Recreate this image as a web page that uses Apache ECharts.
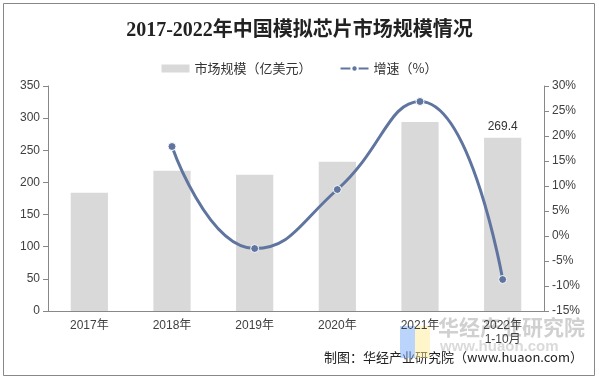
<!DOCTYPE html>
<html><head><meta charset="utf-8">
<script src="https://cdn.jsdelivr.net/npm/echarts@6/dist/echarts.min.js"></script>
<style>html,body{margin:0;padding:0;background:#fff}#c{width:599px;height:380px}</style>
</head><body><div id="c"></div>
<script>
const categories = ['2017年','2018年','2019年','2020年','2021年','2022年\n1-10月'];
const marketSize = [184, 218, 212, 232, 294, 269.4];
const growth = [null, 17.9, -2.5, 9.3, 26.9, -8.7];
const leftTicks = [0, 350, 50];
const rightTicks = [-15, 30, 5];

const chart = echarts.init(document.getElementById('c'), null, {renderer:'canvas'});
const axisTxt = {color:'#404040', fontSize:12, fontFamily:'Liberation Sans, Arial, Noto Sans CJK SC'};
chart.setOption({
  animation:false,
  backgroundColor:'#fff',
  title:{text:'2017-2022年中国模拟芯片市场规模情况', left:'center', top:16,
    textStyle:{fontSize:20, fontWeight:'bold', color:'#222', fontFamily:'Liberation Serif, Noto Sans CJK SC'}},
  legend:{top:57, left:'center', itemGap:28, itemWidth:28, itemHeight:8,
    textStyle:{fontSize:13, color:'#333', fontFamily:'Noto Sans CJK SC'},
    data:[{name:'市场规模（亿美元）', icon:'rect', itemStyle:{color:'#d9d9d9'}},
          {name:'增速（%）'}]},
  grid:{left:48, right:55, top:86, bottom:69},
  xAxis:{type:'category', data:categories,
    axisLine:{lineStyle:{color:'#888'}}, axisTick:{lineStyle:{color:'#888'}},
    axisLabel:Object.assign({margin:8, lineHeight:14}, axisTxt)},
  yAxis:[
    {type:'value', min:leftTicks[0], max:leftTicks[1], interval:leftTicks[2], splitLine:{show:false},
     axisLine:{show:true, lineStyle:{color:'#888'}}, axisTick:{show:true, lineStyle:{color:'#888'}},
     axisLabel:axisTxt},
    {type:'value', min:rightTicks[0], max:rightTicks[1], interval:rightTicks[2], splitLine:{show:false},
     axisLine:{show:true, lineStyle:{color:'#888'}}, axisTick:{show:true, lineStyle:{color:'#888'}},
     axisLabel:Object.assign({formatter:'{value}%'}, axisTxt)}
  ],
  series:[
    {name:'市场规模（亿美元）', type:'bar', data:marketSize, barWidth:'45%',
     itemStyle:{color:'#d9d9d9'},
     label:{show:true, position:'top', color:'#333', fontSize:12, fontFamily:'Liberation Sans',
       formatter:p=>p.dataIndex===5?String(p.value):''}},
    {name:'增速（%）', type:'line', yAxisIndex:1, data:growth, smooth:0.5,
     symbol:'circle', symbolSize:8, connectNulls:false,
     lineStyle:{color:'#5f75a0', width:3},
     itemStyle:{color:'#5f75a0', borderColor:'#fff', borderWidth:1}}
  ],
  graphic:[
    {type:'rect', shape:{x:3.5, y:3.5, width:591, height:372}, style:{fill:'none', stroke:'#888', lineWidth:1}, z:-1},
    {type:'text', right:16, top:351, style:{text:'制图：华经产业研究院（www.huaon.com）', fill:'#222', font:'13px Noto Sans CJK SC'}},
    {type:'text', left:438, top:317, style:{text:'华经产业研究院', fill:'rgba(150,150,150,0.45)', font:'bold 21px Noto Sans CJK SC'}},
    {type:'text', left:440, top:339, style:{text:'www.huaon.com', fill:'rgba(150,150,150,0.35)', font:'bold 15px Liberation Sans'}},
    {type:'rect', shape:{x:400, y:326, width:15, height:32}, style:{fill:'rgba(120,170,250,0.5)'}},
    {type:'rect', shape:{x:415, y:326, width:15, height:32}, style:{fill:'rgba(255,235,150,0.5)'}}
  ]
});
</script></body></html>
